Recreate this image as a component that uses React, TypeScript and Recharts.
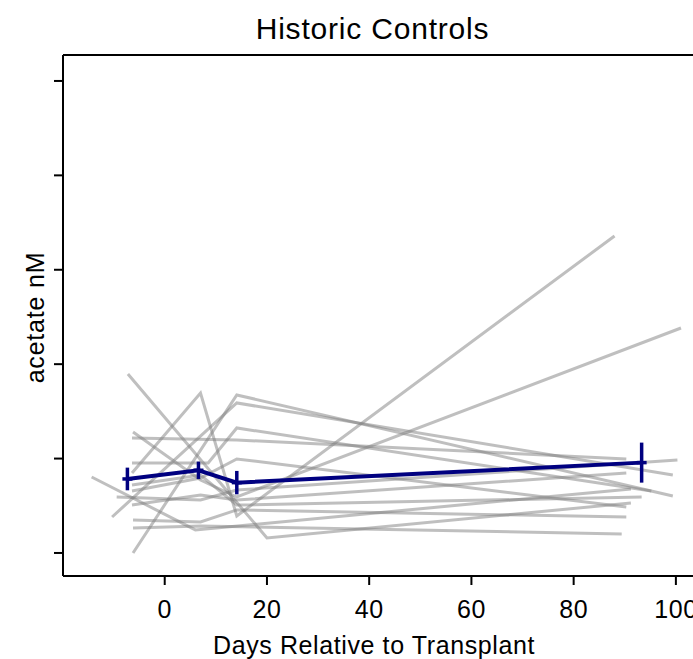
import React from 'react';
import { LineChart, Line, XAxis, YAxis, ErrorBar, Label } from 'recharts';

const FONT = '"Liberation Sans", Arial, Helvetica, sans-serif';

// Axis ticks
const X_TICKS = [0, 20, 40, 60, 80, 100];
const Y_TICKS = [0, 10, 20, 30, 40, 50];

// Individual historic controls: sampling day and acetate level per visit
const PATIENT_DAYS: number[][] = [
  [-7.2, 20.0, 91.2],
  [-14.3, 6.0, 91.2],
  [-6.2, 14.1, 99.4],
  [-10.3, 14.1, 99.4],
  [-6.4, 7.0, 14.1, 88.0],
  [-6.4, 14.1, 90.3],
  [-6.4, 8.5, 14.1, 95.2],
  [-6.2, 7.0, 14.1, 101.0],
  [-6.4, 7.0, 14.1, 90.3],
  [-9.4, 7.0, 14.1, 100.3],
  [-6.4, 7.0, 14.1, 90.3],
  [-6.2, 7.0, 14.1, 90.3],
  [-6.2, 7.0, 89.4],
  [-6.4, 7.0, 14.1, 93.3],
];
const PATIENT_ACETATE: number[][] = [
  [18.96, 1.59, 5.3],
  [8.05, 2.44, 6.78],
  [0.0, 16.74, 6.04],
  [3.81, 15.89, 8.26],
  [8.47, 16.95, 3.92, 33.58],
  [12.18, 11.97, 9.96],
  [9.53, 9.53, 13.24, 6.57],
  [12.82, 7.73, 5.93, 23.83],
  [6.57, 7.94, 9.96, 4.87],
  [5.93, 5.61, 6.67, 9.85],
  [5.08, 6.14, 5.61, 8.47],
  [3.5, 3.28, 4.56, 3.81],
  [2.65, 2.86, 2.01],
  [7.2, 8.26, 5.08, 5.93],
];

// Group mean with standard error
const MEAN_DAYS = [-7.3, 6.6, 14.1, 93.3];
const MEAN_ACETATE = [7.84, 8.76, 7.45, 9.57];
const MEAN_SEM = [1.2, 0.92, 1.24, 2.12];

const patients = PATIENT_DAYS.map((days, i) =>
  days.map((day, j) => ({ day, acetate: PATIENT_ACETATE[i][j] }))
);
const mean = MEAN_DAYS.map((day, i) => ({
  day,
  acetate: MEAN_ACETATE[i],
  sem: MEAN_SEM[i],
}));

const NAVY = '#000080';
const TITLE_X = 372.5;
const XLABEL_X = 374;

const MeanMarker = (props: any) => {
  const { cx, cy, index } = props;
  return (
    <line
      key={`mean-marker-${index}`}
      x1={cx - 5}
      x2={cx + 5}
      y1={cy}
      y2={cy}
      stroke={NAVY}
      strokeWidth={3.5}
    />
  );
};

// y ticks carry no labels, only tick marks
const EmptyTick = (props: any) => <g key={`ytick-${props.index}`} />;

const renderTitle = (props: any) => {
  const vb = props.viewBox || {};
  return (
    <text
      x={TITLE_X}
      y={vb.y - 15}
      textAnchor="middle"
      fontFamily={FONT}
      fontSize={30}
      letterSpacing={0.8}
      fill="#000"
    >
      Historic Controls
    </text>
  );
};

const renderXLabel = (props: any) => {
  const vb = props.viewBox || {};
  return (
    <text
      x={XLABEL_X}
      y={vb.y + 78}
      textAnchor="middle"
      fontFamily={FONT}
      fontSize={25}
      letterSpacing={0.6}
      fill="#000"
    >
      Days Relative to Transplant
    </text>
  );
};

const renderYLabel = (props: any) => {
  const vb = props.viewBox || {};
  const x = vb.x + vb.width - 19;
  const y = vb.y + vb.height / 2 + 2;
  return (
    <text
      x={x}
      y={y}
      transform={`rotate(-90, ${x}, ${y})`}
      textAnchor="middle"
      fontFamily={FONT}
      fontSize={25}
      letterSpacing={0.8}
      fill="#000"
    >
      acetate nM
    </text>
  );
};

export default function App() {
  return (
    <div
      style={{
        position: 'absolute',
        left: 0,
        top: 0,
        width: 693,
        height: 659,
        overflow: 'hidden',
        background: '#fff',
        fontFamily: FONT,
      }}
    >
      <LineChart
        width={727}
        height={659}
        margin={{ top: 54, right: 0, bottom: 0, left: 62 }}
      >
        <XAxis
          xAxisId="frame"
          orientation="top"
          type="number"
          dataKey="day"
          domain={[-19.9, 110]}
          allowDataOverflow
          height={1}
          tick={false}
          tickLine={false}
          axisLine={{ stroke: '#000', strokeWidth: 2 }}
        >
          <Label content={renderTitle} />
        </XAxis>
        <XAxis
          type="number"
          dataKey="day"
          domain={[-19.9, 110]}
          ticks={X_TICKS}
          allowDataOverflow
          height={83}
          tickSize={9}
          tickMargin={15}
          axisLine={{ stroke: '#000', strokeWidth: 2 }}
          tickLine={{ stroke: '#000', strokeWidth: 2 }}
          tick={{ fill: '#000', fontSize: 25, fontFamily: FONT, letterSpacing: 0.6 }}
        >
          <Label content={renderXLabel} />
        </XAxis>
        <YAxis
          type="number"
          domain={[-2.44, 52.75]}
          ticks={Y_TICKS}
          allowDataOverflow
          width={1}
          tickSize={9}
          tick={EmptyTick}
          axisLine={{ stroke: '#000', strokeWidth: 2 }}
          tickLine={{ stroke: '#000', strokeWidth: 2 }}
        >
          <Label content={renderYLabel} />
        </YAxis>
        {patients.map((series, i) => (
          <Line
            key={`patient-${i}`}
            data={series}
            dataKey="acetate"
            type="linear"
            stroke="#7f7f7f"
            strokeOpacity={0.5}
            strokeWidth={3}
            dot={false}
            activeDot={false}
            isAnimationActive={false}
          />
        ))}
        <Line
          data={mean}
          dataKey="acetate"
          type="linear"
          stroke={NAVY}
          strokeWidth={4}
          dot={MeanMarker}
          activeDot={false}
          isAnimationActive={false}
        >
          <ErrorBar
            dataKey="sem"
            direction="y"
            width={0}
            stroke={NAVY}
            strokeWidth={3.5}
          />
        </Line>
      </LineChart>
    </div>
  );
}
